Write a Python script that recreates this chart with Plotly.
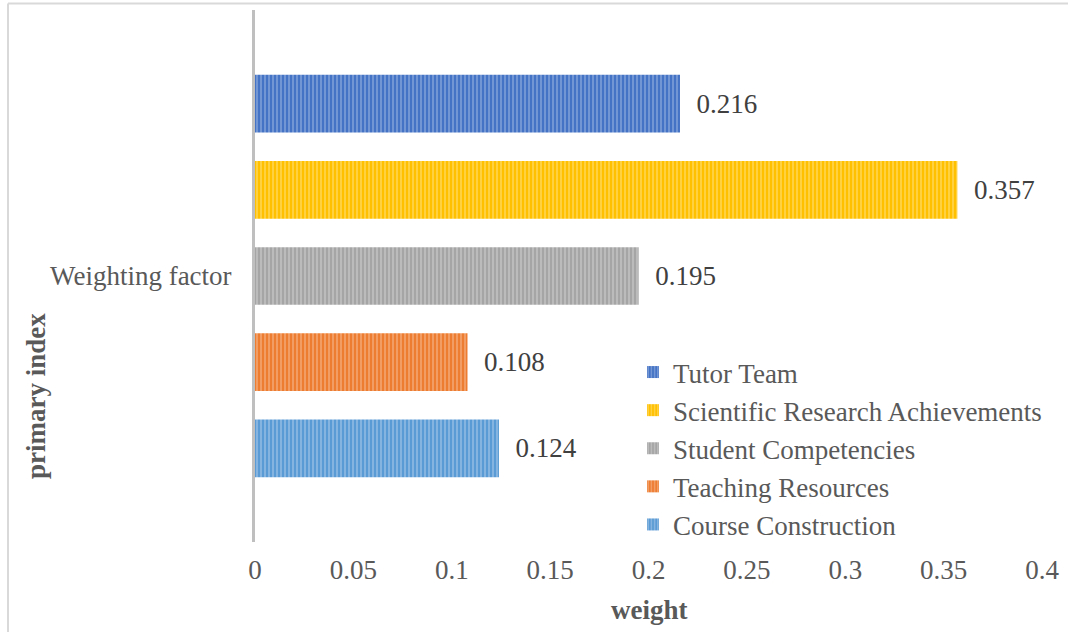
import plotly.graph_objects as go

# Weights of the primary indicators
category = ["Weighting factor"]
series_names = [
    "Course Construction",
    "Teaching Resources",
    "Student Competencies",
    "Scientific Research Achievements",
    "Tutor Team",
]
weights = [0.124, 0.108, 0.195, 0.357, 0.216]
colors = ["#5B9BD5", "#ED7D31", "#A5A5A5", "#FFC000", "#4472C4"]
x_ticks = [0, 0.05, 0.1, 0.15, 0.2, 0.25, 0.3, 0.35, 0.4]

FONT = "Times New Roman, Liberation Serif, serif"
FS = 27
W, H = 1068, 632
ML, MR, MT, MB = 255, 26, 10, 90
PW, PH = W - ML - MR, H - MT - MB


def px_x(px):
    return (px - ML) / PW


def px_y(py):
    return (H - MB - py) / PH


fig = go.Figure()
for name, w, c in zip(series_names, weights, colors):
    fig.add_trace(go.Bar(
        name=name,
        y=category,
        x=[w],
        orientation="h",
        marker=dict(
            color=c,
            line=dict(width=0),
            pattern=dict(shape="|", size=4, solidity=0.45,
                         fgcolor="rgba(255,255,255,0.55)", fillmode="overlay"),
        ),
        text=[w],
        texttemplate="\u00a0\u00a0%{x}",
        textposition="outside",
        outsidetextfont=dict(family=FONT, size=FS, color="#404040"),
        cliponaxis=False,
    ))

fig.update_layout(
    width=W, height=H,
    margin=dict(l=ML, r=MR, t=MT, b=MB),
    paper_bgcolor="white",
    plot_bgcolor="white",
    barmode="group",
    bargap=0.19,
    bargroupgap=0.33,
    font=dict(family=FONT, color="#595959"),
    showlegend=True,
    legend=dict(
        traceorder="reversed",
        x=px_x(633), y=px_y(348), xanchor="left", yanchor="top",
        font=dict(family=FONT, size=FS, color="#595959"),
        itemwidth=30,
        bgcolor="rgba(0,0,0,0)",
    ),
    xaxis=dict(
        range=[0, 0.4],
        tickvals=x_ticks,
        showgrid=False, zeroline=False, showline=False,
        ticks="",
        tickfont=dict(family=FONT, size=FS, color="#595959"),
        ticklabelstandoff=9,
    ),
    yaxis=dict(
        type="category",
        showgrid=False, zeroline=False,
        showline=True, linecolor="#BFBFBF", linewidth=3,
        ticks="",
        tickfont=dict(family=FONT, size=FS, color="#595959"),
        ticklabelstandoff=15,
    ),
    shapes=[
        dict(type="line", xref="paper", yref="paper",
             x0=px_x(8), x1=px_x(W + 2), y0=px_y(3.5), y1=px_y(3.5),
             line=dict(color="#D9D9D9", width=2)),
        dict(type="line", xref="paper", yref="paper",
             x0=px_x(8), x1=px_x(8), y0=px_y(3.5), y1=px_y(H + 2),
             line=dict(color="#D9D9D9", width=2)),
    ],
    annotations=[
        dict(text="<b>weight</b>", xref="paper", yref="paper",
             x=px_x(649), y=px_y(610), xanchor="center", yanchor="middle",
             showarrow=False, font=dict(family=FONT, size=FS, color="#595959")),
        dict(text="<b>primary index</b>", xref="paper", yref="paper",
             x=px_x(36), y=px_y(396), xanchor="center", yanchor="middle",
             textangle=-90, showarrow=False,
             font=dict(family=FONT, size=FS, color="#595959")),
    ],
)

fig.write_html("out.html")
